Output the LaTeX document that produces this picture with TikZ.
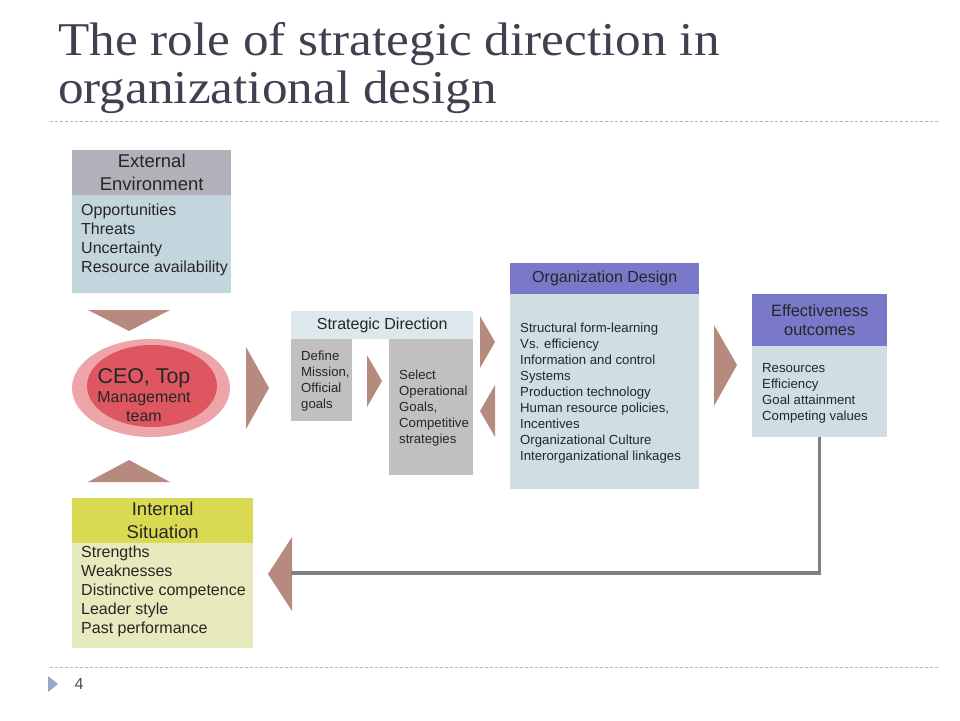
\documentclass[tikz,border=0pt]{standalone}
\usepackage{fontspec}
\setmainfont{Liberation Sans}
\newfontfamily\titlefont[FakeStretch=1.09]{Liberation Serif}
\usetikzlibrary{positioning,calc}
\definecolor{titlegray}{RGB}{64,64,80}
\definecolor{dashclr}{RGB}{166,188,198}
\definecolor{extgray}{RGB}{178,176,184}
\definecolor{paleblue}{RGB}{195,214,221}
\definecolor{orgblue}{RGB}{206,222,226}
\definecolor{intyellow}{RGB}{218,218,82}
\definecolor{intpale}{RGB}{230,234,188}
\definecolor{strblue}{RGB}{221,232,236}
\definecolor{stepgray}{RGB}{192,192,192}
\definecolor{headpurple}{RGB}{122,120,200}
\definecolor{chevclr}{RGB}{183,138,128}
\definecolor{ceopale}{RGB}{238,165,170}
\definecolor{ceored}{RGB}{222,86,96}
\definecolor{linegray}{RGB}{128,128,128}
\tikzset{
  hdr/.style={rectangle, anchor=north west, inner sep=0pt, align=center, text=black!85},
  bodybox/.style={rectangle, anchor=north west, inner sep=0pt},
  items/.style={anchor=north west, align=left, inner sep=0pt, text=black!85,
                font=\fontsize{13.2}{16}\selectfont},
  bigitems/.style={items, font=\fontsize{16}{19}\selectfont},
  chev/.style={fill=chevclr, draw=none},
  divider/.style={draw=dashclr, dash pattern=on 3pt off 2pt, line width=0.8pt},
  feedback/.style={draw=linegray, line width=3.5pt}
}

\begin{document}
\begin{tikzpicture}[x=1pt,y=-1pt]
  \useasboundingbox (0,0) rectangle (960,720);

  % Title and slide rules.
  \node[anchor=north west, inner sep=0pt, align=left, text=titlegray,
        font=\titlefont\fontsize{47}{48}\selectfont] (title) at (58,22)
        {The role of strategic direction in\\organizational design};
  \draw[divider] (50,121) -- (940,121);
  \draw[divider] (50,667) -- (940,667);
  \fill[dashclr!90!blue] (48,676) -- (58,684) -- (48,692) -- cycle;
  \node[text=black!70, font=\fontsize{16}{18}\selectfont] (pagenum) at (79,684) {4};

  % External environment.
  \node[hdr, fill=extgray, minimum width=159pt, minimum height=45pt,
        font=\fontsize{18.5}{23}\selectfont] (exthd) at (72,150) {External\\Environment};
  \node[bodybox, fill=paleblue, minimum width=159pt, minimum height=98pt] (extbd) at (72,195) {};
  \node[bigitems] (extlist) at ([shift={(9,9)}]extbd.north west)
        {Opportunities\\Threats\\Uncertainty\\Resource availability};

  % Internal situation.
  \node[hdr, fill=intyellow, minimum width=181pt, minimum height=45pt,
        font=\fontsize{18.5}{23}\selectfont] (inthd) at (72,498) {Internal\\Situation};
  \node[bodybox, fill=intpale, minimum width=181pt, minimum height=105pt] (intbd) at (72,543) {};
  \node[bigitems] (intlist) at ([shift={(9,3)}]intbd.north west)
        {Strengths\\Weaknesses\\Distinctive competence\\Leader style\\Past performance};

  % CEO ellipse.
  \fill[ceopale] (151,388) ellipse (79 and 49);
  \fill[ceored] (152,386) ellipse (65 and 41);
  \node[align=center, text=black!85, font=\fontsize{16}{19}\selectfont] (ceo) at (144,395)
        {{\fontsize{21.4}{24}\selectfont CEO, Top}\\Management\\team};

  % Strategic direction.
  \node[hdr, fill=strblue, minimum width=182pt, minimum height=28pt,
        font=\fontsize{16}{18}\selectfont] (strhd) at (291,311) {Strategic Direction};
  \node[bodybox, fill=stepgray, minimum width=61pt, minimum height=82pt] (defbx) at (291,339) {};
  \node[bodybox, fill=stepgray, minimum width=84pt, minimum height=136pt] (selbx) at (389,339) {};
  \node[items] (deflist) at ([shift={(10,12)}]defbx.north west) {Define\\Mission,\\Official\\goals};
  \node[items] (sellist) at ([shift={(10,31)}]selbx.north west)
        {Select\\Operational\\Goals,\\Competitive\\strategies};

  % Organization design.
  \node[hdr, fill=headpurple, minimum width=189pt, minimum height=31pt,
        font=\fontsize{16}{18}\selectfont] (orghd) at (510,263) {Organization Design};
  \node[bodybox, fill=orgblue, minimum width=189pt, minimum height=195pt] (orgbd) at (510,294) {};
  \node[items] (orglist) at ([shift={(10,29)}]orgbd.north west)
        {Structural form-learning\\Vs. efficiency\\Information and control\\Systems\\
         Production technology\\Human resource policies,\\Incentives\\
         Organizational Culture\\Interorganizational linkages};

  % Effectiveness outcomes.
  \node[hdr, fill=headpurple, minimum width=135pt, minimum height=52pt,
        font=\fontsize{16.4}{19}\selectfont] (effhd) at (752,294) {Effectiveness\\outcomes};
  \node[bodybox, fill=orgblue, minimum width=135pt, minimum height=91pt] (effbd) at (752,346) {};
  \node[items] (efflist) at ([shift={(10,17)}]effbd.north west)
        {Resources\\Efficiency\\Goal attainment\\Competing values};

  % Chevrons.
  \fill[chev] (88,310) -- (170,310) -- (129,331) -- cycle;
  \fill[chev] (88,482) -- (170,482) -- (129,460) -- cycle;
  \fill[chev] (246,347) -- (269,388) -- (246,429) -- cycle;
  \fill[chev] (367,355) -- (382,381) -- (367,407) -- cycle;
  \fill[chev] (480,316) -- (495,342) -- (480,368) -- cycle;
  \fill[chev] (495,385) -- (480,411) -- (495,437) -- cycle;
  \fill[chev] (714,325) -- (737,365) -- (714,406) -- cycle;
  \fill[chev] (292,537) -- (268,574) -- (292,611) -- cycle;
  \coordinate (back) at (291,573);

  % Feedback line.
  \draw[feedback] (effbd.south) |- (back);
\end{tikzpicture}
\end{document}
